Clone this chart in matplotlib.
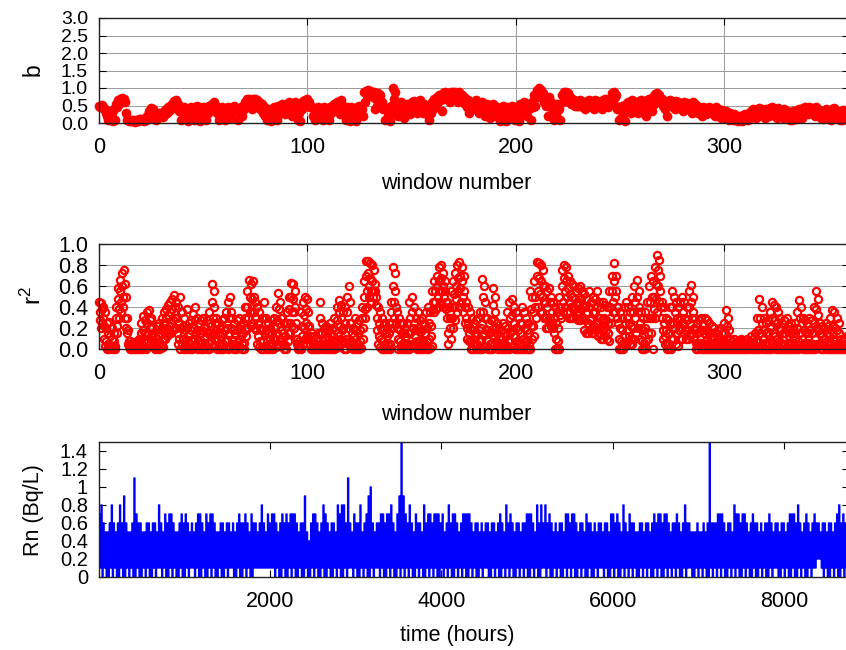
import numpy as np
import matplotlib
matplotlib.use("Agg")
import matplotlib.pyplot as plt
from matplotlib.ticker import FormatStrFormatter

plt.rcParams['font.family'] = ['Liberation Sans', 'DejaVu Sans']
plt.rcParams['mathtext.fontset'] = 'custom'
plt.rcParams['mathtext.rm'] = 'Liberation Sans'
plt.rcParams['mathtext.it'] = 'Liberation Sans'
plt.rcParams['mathtext.default'] = 'regular'

# ---------------- data ----------------
# b per window, in hundredths, two samples per window (windows 0..359)
b_vals = [
    50,45, 48,52, 45,40, 40,30, 20,10, 35,8, 30,5, 40,10, 55,45, 65,55,
    70,60, 72,65, 68,60, 30,10, 10,5, 8,5, 10,6, 8,4, 10,6, 12,8,
    12,8, 10,6, 15,10, 20,12, 35,25, 42,30, 40,15, 20,8, 25,15, 30,20,
    30,18, 35,25, 40,30, 45,35, 50,40, 55,45, 62,55, 65,50, 55,35, 45,10,
    40,30, 45,20, 35,5, 40,30, 45,35, 35,10, 45,30, 50,40, 40,5, 35,25,
    45,30, 40,10, 45,30, 50,35, 55,40, 60,45, 50,30, 35,10, 40,25, 45,35,
    30,10, 35,25, 45,30, 40,15, 45,35, 50,40, 35,10, 40,30, 45,20, 50,40,
    60,50, 68,55, 70,60, 65,40, 68,55, 70,60, 65,50, 60,40, 55,30, 45,20,
    35,10, 40,25, 30,5, 35,20, 45,30, 40,10, 50,35, 45,30, 55,40, 50,25,
    55,40, 60,45, 45,20, 55,40, 60,50, 40,10, 30,5, 50,40, 62,50, 65,55,
    68,55, 60,45, 45,20, 40,10, 35,25, 45,30, 40,20, 35,10, 45,30, 40,25,
    30,10, 45,30, 50,35, 55,40, 60,45, 45,25, 65,50, 50,30, 40,10, 45,30,
    35,5, 45,30, 40,25, 30,5, 45,30, 50,40, 40,20, 90,60, 92,80, 94,85,
    92,85, 90,75, 88,40, 70,50, 85,70, 80,55, 60,40, 45,10, 40,20, 30,5,
    50,30, 99,70, 90,50, 45,20, 55,40, 60,45, 40,15, 50,35, 55,40, 45,25,
    60,45, 62,50, 55,30, 60,45, 65,50, 50,30, 55,40, 45,25, 40,10, 50,30,
    60,40, 70,50, 75,60, 80,65, 70,35, 85,70, 88,75, 86,70, 82,60, 88,75,
    90,78, 88,70, 85,60, 88,75, 80,60, 75,55, 70,45, 65,30, 60,45, 55,40,
    60,50, 65,55, 55,30, 50,35, 60,40, 45,20, 55,40, 50,15, 45,30, 55,40,
    40,20, 45,30, 35,5, 40,25, 50,35, 30,5, 45,30, 40,20, 50,35, 35,10,
    45,30, 40,5, 55,40, 50,30, 60,45, 45,20, 55,40, 50,10, 60,45, 80,50,
    95,75, 100,85, 95,80, 85,60, 70,50, 65,20, 75,55, 60,30, 50,10, 45,25,
    55,40, 40,10, 80,60, 88,75, 90,78, 85,70, 75,55, 70,55, 65,50, 60,50,
    62,50, 65,55, 60,45, 58,40, 62,50, 65,55, 60,45, 55,40, 65,50, 62,50,
    60,45, 55,40, 65,50, 68,55, 62,45, 70,55, 85,60, 90,75, 80,40, 45,10,
    40,15, 50,30, 30,5, 55,40, 60,45, 50,30, 65,50, 60,45, 55,30, 62,50,
    65,50, 60,40, 55,20, 65,50, 70,55, 60,35, 75,55, 82,65, 85,70, 80,60,
    70,50, 60,40, 55,20, 62,50, 65,55, 60,45, 55,40, 62,50, 60,45, 58,40,
    55,35, 60,45, 58,40, 55,40, 50,30, 60,45, 55,40, 50,30, 45,30, 40,20,
    45,30, 40,25, 42,30, 45,35, 40,25, 35,20, 45,30, 40,25, 35,15, 38,25,
    30,20, 35,20, 25,10, 30,15, 20,8, 25,10, 15,5, 20,8, 18,6, 22,10,
    25,12, 20,8, 30,15, 35,20, 40,25, 30,15, 35,20, 42,30, 40,25, 35,15,
    40,25, 35,20, 42,30, 45,35, 40,20, 35,15, 42,30, 38,20, 35,15, 40,28,
    35,20, 30,10, 25,10, 35,15, 30,12, 38,22, 40,30, 35,15, 42,28, 45,35,
    40,25, 45,30, 42,28, 38,20, 45,30, 40,25, 35,15, 30,12, 35,20, 40,25,
    35,20, 30,10, 40,25, 42,28, 35,15, 30,10, 25,8, 38,20, 30,12, 25,8,
]

# r^2 per window, in hundredths, four samples per window (windows 0..359)
r2_vals = [
    45,35,28,20, 44,38,25,30, 40,22,10,3, 35,20,8,0, 25,15,5,0, 26,12,4,1, 20,10,2,0, 15,8,3,0, 40,30,22,15, 58,48,38,30,
    66,55,45,35, 72,60,50,40, 75,62,30,20, 50,30,15,5, 18,8,3,0, 8,4,2,0, 6,3,1,0, 7,4,2,0, 8,5,1,0, 10,6,2,0,
    25,15,5,0, 31,18,8,1, 28,15,6,0, 35,25,15,8, 37,28,20,12, 30,20,12,5, 15,8,3,0, 12,6,2,0, 22,12,5,0, 25,15,6,1,
    30,20,10,2, 35,25,18,10, 38,30,20,12, 42,32,22,15, 45,35,25,15, 48,38,28,18, 51,40,30,20, 45,30,15,5, 40,25,10,0, 50,35,20,5,
    35,22,10,0, 30,18,8,0, 38,20,8,1, 25,15,5,0, 28,18,8,0, 33,20,10,2, 40,28,15,3, 30,18,8,0, 25,15,5,0, 28,18,6,0,
    30,20,10,1, 22,12,4,0, 28,16,6,0, 35,25,15,8, 62,45,30,15, 55,40,25,10, 30,18,8,0, 25,15,5,0, 20,12,4,0, 28,15,5,0,
    30,18,8,1, 35,20,8,0, 45,30,15,3, 50,35,20,5, 30,18,8,0, 25,15,5,0, 28,18,8,1, 30,20,10,2, 22,12,5,0, 25,15,6,0,
    40,30,20,12, 55,40,30,20, 66,50,35,22, 62,48,35,25, 65,50,35,20, 45,30,18,5, 40,25,12,2, 35,20,8,0, 30,18,8,0, 45,30,15,3,
    30,18,8,0, 25,15,5,0, 20,10,3,0, 28,15,5,0, 30,20,10,2, 40,28,15,5, 53,38,25,10, 45,30,18,8, 30,15,5,0, 25,12,4,0,
    35,25,15,8, 50,38,25,15, 63,50,35,22, 62,48,35,20, 55,40,25,10, 10,5,2,0, 8,3,1,0, 35,22,12,5, 45,32,20,10, 50,38,25,12,
    48,35,22,10, 22,12,5,0, 15,8,3,0, 12,6,2,0, 10,5,2,0, 15,8,3,0, 45,30,15,5, 25,15,5,0, 20,10,3,0, 22,12,4,0,
    18,10,3,0, 25,15,5,0, 20,12,4,0, 30,18,8,1, 40,28,15,5, 47,35,22,10, 42,30,18,8, 35,20,8,0, 40,25,10,0, 50,35,20,5,
    60,45,25,8, 25,15,5,0, 20,12,4,0, 30,18,6,0, 25,15,5,0, 28,18,8,1, 40,30,20,10, 65,50,38,30, 84,70,55,40, 84,72,60,50,
    82,68,55,45, 80,65,55,50, 75,62,55,50, 42,30,18,5, 40,25,12,2, 35,20,10,0, 30,18,8,0, 25,15,5,0, 20,12,4,0, 25,15,5,0,
    45,35,25,20, 78,60,45,30, 72,55,40,25, 35,20,10,0, 30,18,8,0, 25,15,5,0, 25,15,5,0, 20,12,4,0, 25,15,5,0, 45,30,15,3,
    50,35,20,5, 40,25,12,2, 30,18,8,0, 35,20,8,0, 28,16,6,0, 30,18,8,0, 25,15,5,0, 35,20,8,0, 40,25,10,1, 35,22,12,3,
    55,45,38,35, 65,55,45,38, 70,60,50,40, 78,65,55,45, 80,68,55,42, 72,60,50,40, 65,55,45,38, 45,30,15,5, 40,30,20,10, 55,40,30,20,
    65,52,40,28, 72,60,48,35, 80,68,55,40, 83,70,58,45, 78,65,50,35, 70,55,40,25, 45,30,20,10, 40,25,15,8, 35,20,8,0, 30,18,6,0,
    25,15,5,0, 28,15,5,0, 30,18,8,0, 35,20,8,0, 67,50,35,15, 60,45,30,18, 30,18,8,0, 25,15,5,0, 28,16,6,0, 58,42,28,12,
    50,35,20,8, 25,15,5,0, 20,12,4,0, 18,10,3,0, 25,15,5,0, 22,12,4,0, 35,20,8,0, 45,30,15,2, 48,32,18,3, 40,25,12,0,
    35,20,8,0, 30,18,6,0, 25,15,5,0, 40,25,10,0, 35,20,8,0, 30,18,8,0, 25,15,5,0, 55,38,22,10, 50,35,22,12, 65,50,40,30,
    83,70,55,40, 82,68,52,35, 80,65,50,35, 75,60,45,30, 60,45,30,20, 55,40,28,20, 58,45,30,22, 50,35,25,20, 45,30,15,0, 40,25,10,0,
    35,20,8,0, 50,40,32,30, 75,60,45,35, 80,68,55,40, 78,65,50,35, 70,58,45,30, 65,52,40,30, 62,50,38,30, 60,48,38,30, 55,45,35,28,
    58,45,35,28, 60,48,38,30, 55,42,30,18, 52,40,28,15, 48,35,25,15, 55,40,28,18, 45,30,20,15, 50,35,22,15, 48,35,25,18, 55,40,25,12,
    45,30,20,10, 40,28,18,10, 45,30,20,12, 42,28,18,10, 40,25,15,8, 55,40,30,25, 70,55,45,35, 82,65,50,35, 70,55,40,30, 40,25,10,0,
    35,20,8,0, 30,18,6,0, 40,25,12,5, 45,30,18,8, 40,25,12,5, 35,22,10,5, 50,35,20,10, 60,45,30,15, 66,50,35,20, 55,40,25,10,
    35,20,8,0, 30,18,6,0, 35,20,8,1, 45,30,15,10, 60,45,30,15, 70,50,30,0, 65,50,38,30, 78,62,48,35, 90,75,60,45, 85,70,55,40,
    45,30,18,10, 40,25,12,5, 30,18,6,0, 28,15,5,0, 40,25,10,0, 55,40,25,10, 50,35,20,5, 45,30,15,3, 40,28,18,10, 45,30,20,10,
    50,35,25,15, 45,30,18,10, 40,28,18,10, 55,40,25,12, 61,45,30,15, 50,35,20,10, 30,18,6,0, 25,15,5,0, 28,16,6,0, 30,18,6,0,
    25,15,5,0, 30,18,8,0, 28,16,6,0, 25,15,5,0, 22,12,4,0, 20,10,3,0, 15,8,2,0, 18,10,3,0, 20,10,3,0, 15,8,2,0,
    25,15,5,0, 37,22,10,0, 30,18,6,0, 10,5,2,0, 8,4,1,0, 10,5,2,0, 6,3,1,0, 8,4,1,0, 10,6,2,0, 8,4,1,0,
    6,3,1,0, 10,5,2,0, 8,4,1,0, 12,6,2,0, 10,5,2,0, 15,8,3,0, 30,18,8,0, 48,30,15,3, 40,25,10,0, 30,18,6,0,
    25,15,5,0, 28,16,6,0, 35,20,8,0, 45,30,15,2, 42,28,12,0, 40,25,10,0, 35,20,8,0, 30,18,6,0, 25,15,5,0, 28,15,5,0,
    30,18,6,0, 22,12,4,0, 25,15,5,0, 20,12,4,0, 25,15,5,0, 35,20,8,0, 47,30,15,2, 40,25,10,0, 30,18,6,0, 28,16,6,0,
    25,15,5,0, 30,18,6,0, 28,15,5,0, 40,25,10,0, 55,38,20,5, 48,32,18,5, 25,15,5,0, 22,12,4,0, 20,10,3,0, 25,15,5,0,
    22,12,4,0, 30,18,6,0, 37,22,10,0, 35,20,8,0, 30,18,6,0, 25,15,5,0, 10,5,2,0, 8,4,1,0, 10,5,2,0, 12,6,2,0,
]

# Rn daily maximum and minimum, in tenths of Bq/L (days 0..364)
rn_hi = [
    7,8,6,5,5,6,8,6,5,6, 8,6,9,6,5,5,6,11,7,6, 6,5,5,6,6,5,6,6,5,8,
    6,5,7,6,7,7,6,5,5,6, 7,6,7,6,5,6,5,6,7,7, 6,5,7,6,7,7,6,5,5,6,
    6,5,6,6,5,6,5,6,7,6, 6,7,6,5,7,6,6,5,6,8, 6,5,7,6,7,7,6,5,6,7,
    6,7,6,7,7,7,6,5,6,6, 9,5,4,6,7,7,6,5,6,8, 7,6,5,6,6,5,8,7,8,8,
    6,11,6,5,7,6,6,8,5,6, 7,9,10,6,5,6,6,7,7,6, 7,7,8,6,5,7,9,15,9,7,
    6,8,6,5,7,6,6,5,8,6, 7,7,6,7,7,7,6,7,5,6, 8,6,7,7,6,5,6,7,7,7,
    7,6,5,6,6,5,6,5,6,6, 5,6,6,5,6,7,6,5,8,6, 7,6,5,6,6,5,6,6,7,7,
    7,6,5,8,6,8,6,8,6,7, 6,5,6,5,6,6,5,7,7,6, 7,7,6,5,6,6,5,7,6,6,
    5,6,5,6,6,5,6,6,5,7, 7,6,7,6,5,8,6,5,7,6, 6,5,5,6,6,5,6,6,5,6,
    7,6,7,7,6,7,7,6,5,6, 6,7,6,5,6,8,6,6,5,5, 5,6,5,5,6,5,6,15,6,6,
    6,7,7,7,6,5,6,6,5,8, 7,7,6,7,7,6,5,6,7,6, 6,5,6,5,6,6,7,6,5,6,
    6,5,6,6,5,6,7,7,7,6, 8,6,5,6,7,6,5,6,7,6, 6,5,6,6,5,6,6,5,6,7,
    8,6,7,6,5,
]
rn_lo = [
    1,0,1,0,0,1,0,1,0,0, 1,0,0,1,0,1,0,0,1,0, 0,1,0,1,0,0,1,0,1,1,
    0,1,0,0,1,0,1,0,0,1, 0,0,1,0,1,1,0,1,0,0, 1,0,0,1,0,1,0,0,1,0,
    0,1,0,1,1,0,0,1,0,0, 1,0,1,0,0,1,1,1,1,1, 1,1,1,1,1,0,1,0,0,1,
    0,0,1,0,1,0,0,1,0,0, 1,0,0,1,0,1,0,0,1,0, 0,1,0,0,1,0,1,0,0,1,
    0,1,1,0,1,0,0,1,0,1, 0,0,1,0,1,1,0,1,0,0, 1,0,1,0,0,1,0,1,0,1,
    0,1,0,0,1,0,1,0,0,1, 0,1,0,1,0,0,1,0,1,0, 1,0,0,1,0,1,0,1,0,0,
    1,0,1,0,0,1,0,1,1,0, 0,1,0,1,0,0,1,0,1,0, 1,0,0,1,0,1,0,1,0,0,
    1,0,1,0,0,1,1,0,1,0, 0,1,0,1,0,0,1,0,1,0, 1,0,0,1,0,1,0,0,1,0,
    0,1,0,1,1,0,1,0,0,1, 0,1,0,0,1,0,1,0,1,0, 1,0,0,1,0,1,0,1,0,0,
    1,0,1,0,0,1,0,1,0,1, 0,1,0,0,1,0,1,1,0,0, 1,0,1,0,1,0,0,1,0,1,
    0,1,0,1,0,0,1,0,1,0, 1,0,0,1,0,1,0,0,1,0, 0,1,0,1,0,0,1,0,1,1,
    0,0,1,0,1,0,0,1,0,0, 1,0,1,0,0,1,0,1,1,2, 2,1,0,1,0,0,1,0,1,0,
    0,1,0,1,0,
]

win_ticks = [0, 100, 200, 300]
b_ticks = [0.0, 0.5, 1.0, 1.5, 2.0, 2.5, 3.0]
r2_ticks = [0.0, 0.2, 0.4, 0.6, 0.8, 1.0]
hour_ticks = [2000, 4000, 6000, 8000]
rn_ticks = [0, 0.2, 0.4, 0.6, 0.8, 1.0, 1.2, 1.4]
rn_ticklabels = ['0', '0.2', '0.4', '0.6', '0.8', '1', '1.2', '1.4']

# ---------------- derived series ----------------
b = np.array(b_vals) / 100.0
xb = np.arange(len(b)) / 2.0
r2 = np.array(r2_vals) / 100.0
xr = np.arange(len(r2)) / 4.0
hi = np.array(rn_hi) / 10.0
lo = np.array(rn_lo) / 10.0
ndays = min(len(hi), len(lo))
t = np.empty(2 * ndays)
rn = np.empty(2 * ndays)
t[0::2] = np.arange(ndays) * 24.0
t[1::2] = np.arange(ndays) * 24.0 + 12.0
rn[0::2] = hi[:ndays]
rn[1::2] = lo[:ndays]

# ---------------- figure ----------------
W, H = 846, 650
fig = plt.figure(figsize=(W / 100, H / 100), dpi=100)

def px_axes(left, top, right, bottom):
    return fig.add_axes([left / W, 1 - bottom / H, (right - left) / W, (bottom - top) / H])

ax1 = px_axes(99, 18, 849, 123)
ax2 = px_axes(99, 244, 849, 349)
ax3 = px_axes(99, 442, 849, 577)

FS = 15.5
grid_kw = dict(color='#9a9a9a', linewidth=0.7)

for ax in (ax1, ax2, ax3):
    ax.tick_params(direction='in', top=True, right=True, length=5, width=0.8,
                   labelsize=FS)
    ax.tick_params(axis='x', pad=10)
    ax.tick_params(axis='y', pad=8)
    for s in ax.spines.values():
        s.set_linewidth(1.0)
        s.set_color('#222222')

# panel 1: b
ax1.plot(xb, b, 'o', color='#ff0000', markersize=7.0, markeredgewidth=0,
         clip_on=False, zorder=2)
ax1.set_xlim(0, 360)
ax1.set_ylim(0, 3.0)
ax1.set_xticks(win_ticks)
ax1.set_yticks(b_ticks)
ax1.yaxis.set_major_formatter(FormatStrFormatter('%.1f'))
ax1.tick_params(axis='y', labelsize=14)
ax1.grid(True, **grid_kw)
ax1.set_axisbelow(True)

# panel 2: r^2
ax2.plot(xr, r2, 'o', markerfacecolor='none', markeredgecolor='#ff0000',
         markersize=5.2, markeredgewidth=1.6, clip_on=False, zorder=2)
ax2.set_xlim(0, 360)
ax2.set_ylim(0, 1.0)
ax2.set_xticks(win_ticks)
ax2.set_yticks(r2_ticks)
ax2.yaxis.set_major_formatter(FormatStrFormatter('%.1f'))
ax2.grid(True, **grid_kw)
ax2.set_axisbelow(True)

# panel 3: Rn
ax3.plot(t, rn, color='#0000ff', linewidth=1.0, drawstyle='steps-post')
ax3.set_xlim(0, 8760)
ax3.set_ylim(0, 1.5)
ax3.set_xticks(hour_ticks)
ax3.set_yticks(rn_ticks)
ax3.set_yticklabels(rn_ticklabels)
ax3.tick_params(axis='y', labelsize=14.5)

# axis titles
fig.text(33 / W, 1 - 70 / H, 'b', rotation=90, ha='center', va='center', fontsize=FS + 1)
fig.text(33 / W, 1 - 296 / H, 'r$^2$', rotation=90, ha='center', va='center', fontsize=FS + 2)
fig.text(33 / W, 1 - 510 / H, 'Rn (Bq/L)', rotation=90, ha='center', va='center', fontsize=FS)
fig.text(456 / W, 1 - 184 / H, 'window number', ha='center', va='center', fontsize=FS)
fig.text(456 / W, 1 - 414 / H, 'window number', ha='center', va='center', fontsize=FS)
fig.text(457 / W, 1 - 635 / H, 'time (hours)', ha='center', va='center', fontsize=FS)

fig.savefig('out.png', dpi=100)
